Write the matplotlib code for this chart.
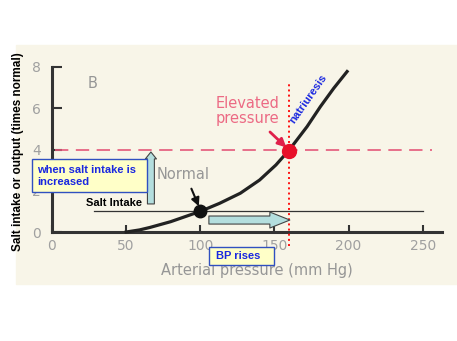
import matplotlib
matplotlib.use("Agg")
import matplotlib.pyplot as plt
from matplotlib.patches import Rectangle

# renal function curve
pressure = [50, 59, 66, 80, 100, 113, 127, 140, 151, 160, 172, 181, 190, 199]
output = [0.0, 0.1, 0.22, 0.5, 1.0, 1.39, 1.88, 2.52, 3.25, 3.98, 5.11, 6.08, 6.97, 7.78]
x_ticks = [0, 50, 100, 150, 200, 250]
y_ticks = [0, 2, 4, 6, 8]
normal_intake = 1
high_intake = 4
normal_bp = 100
high_bp = 160

W, H = 457, 341
GRAY = "#969696"
BLUE = "#1a28e0"
BOLD = dict(family="Liberation Sans", fontweight="bold")

fig = plt.figure(figsize=(W / 100, H / 100), dpi=100)
fig.patches.append(Rectangle((16 / W, 1 - 284 / H), (W - 16) / W, (284 - 45) / H,
                             transform=fig.transFigure, color="#f8f5e8", zorder=-5))
ax = fig.add_axes([52 / W, 1 - 232 / H, 390 / W, 165 / H])
ax.set_facecolor("none")
ax.set_xlim(0, 263)
ax.set_ylim(0, 8)
for s in ["top", "right"]:
    ax.spines[s].set_visible(False)
for s in ["left", "bottom"]:
    ax.spines[s].set_linewidth(2.2)
    ax.spines[s].set_color("#333333")
ax.set_xticks(x_ticks)
ax.set_yticks(y_ticks)
ax.tick_params(axis="x", direction="in", length=5, width=1.5, color="#333333",
               pad=5, labelsize=10, labelcolor="#a0a0a0")
ax.tick_params(axis="y", direction="in", length=7, width=1.5, color="#333333",
               pad=8, labelsize=10, labelcolor="#a0a0a0")

# reference lines
ax.plot([28, 250], [normal_intake, normal_intake], color="#333333", lw=0.9, zorder=2)
ax.plot([2, 256], [high_intake, high_intake], color="#e4587a", lw=1.2,
        dashes=(8, 4.5), clip_on=False, zorder=2)
ax.plot([high_bp, high_bp], [-0.7, 7.2], color="#ff1010", lw=1.4, ls=":",
        clip_on=False, zorder=3)

# curve and points
ax.plot(pressure, output, color="#222222", lw=2.3, zorder=4, clip_on=False,
        solid_joinstyle="round")
ax.plot(normal_bp, normal_intake, "o", ms=9, color="#111111", zorder=5)
ax.plot(high_bp, high_intake - 0.05, "o", ms=10, color="#e8102a", zorder=5)

# labels on the plot
ax.text(27.6, 7.18, "B", color=GRAY, fontsize=10.5, ha="center", va="center")
ax.text(88.6, 2.77, "Normal", color=GRAY, fontsize=10.5, ha="center", va="center")
ax.text(132, 5.87, "Elevated\npressure", color="#ec6a84", fontsize=10.5,
        ha="center", va="center", linespacing=0.95)
ax.text(173, 6.46, "natriuresis", color=BLUE, fontsize=8, rotation=55,
        ha="center", va="center", **BOLD)
ax.text(22.9, 1.41, "Salt Intake", color="black", fontsize=8, ha="left",
        va="center", **BOLD)
ax.text(138, -1.89, "Arterial pressure (mm Hg)", color=GRAY, fontsize=10.5,
        ha="center", va="center")

ax.annotate("", xy=(99, 1.25), xytext=(94, 2.1),
            arrowprops=dict(arrowstyle="-|>", color="#111111", lw=1.5,
                            mutation_scale=12, shrinkA=0, shrinkB=0))
ax.annotate("", xy=(158, 4.1), xytext=(147, 4.85),
            arrowprops=dict(arrowstyle="-|>", color="#e0204a", lw=2,
                            mutation_scale=12, shrinkA=0, shrinkB=0))

# fat arrows
ax.annotate("", xy=(66.7, 3.88), xytext=(66.7, 1.36), annotation_clip=False,
            arrowprops=dict(arrowstyle="simple,head_width=0.8,head_length=0.5,tail_width=0.5",
                            fc="#b4dede", ec="#444444", lw=0.8, mutation_scale=10,
                            shrinkA=0, shrinkB=0), zorder=6)
ax.annotate("", xy=(160.4, 0.58), xytext=(105.8, 0.58), annotation_clip=False,
            arrowprops=dict(arrowstyle="simple,head_width=1.15,head_length=1.44,tail_width=0.58",
                            fc="#b4dede", ec="#444444", lw=0.8, mutation_scale=10,
                            shrinkA=0, shrinkB=0), zorder=6)

# text boxes
ax.add_patch(Rectangle((-13.5, 1.94), 77.5, 1.6, fc="#ffffc8", ec="#3050c0",
                       lw=1, clip_on=False, zorder=7))
ax.text(-10.1, 2.72, "when salt intake is\nincreased", color=BLUE, fontsize=8,
        ha="left", va="center", linespacing=1.3, zorder=8, **BOLD)
ax.add_patch(Rectangle((106, -1.6), 44, 0.87, fc="#ffffc8", ec="#3050c0",
                       lw=1, clip_on=False, zorder=7))
ax.text(125.3, -1.17, "BP rises", color=BLUE, fontsize=8, ha="center",
        va="center", zorder=8, **BOLD)

fig.text(18.5 / W, 1 - 152 / H, "Salt intake or output (times normal)",
         rotation=90, ha="center", va="center", fontsize=8.5, color="black", **BOLD)

fig.savefig("out.png", dpi=100)
